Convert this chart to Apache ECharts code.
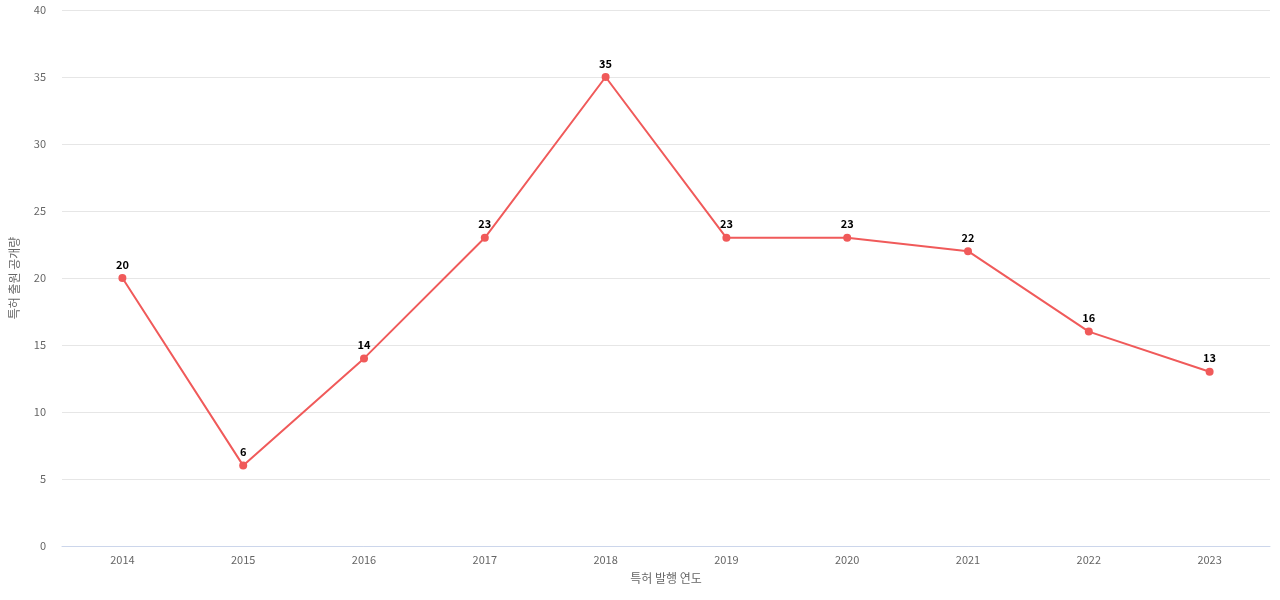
<!DOCTYPE html>
<html><head><meta charset="utf-8">
<script src="https://cdn.jsdelivr.net/npm/echarts@6/dist/echarts.min.js"></script>
<style>html,body{margin:0;padding:0;background:#fff}#c{width:1280px;height:600px}</style>
</head><body><div id="c"></div>
<script>
var years = ['2014','2015','2016','2017','2018','2019','2020','2021','2022','2023'];
var counts = [20, 6, 14, 23, 35, 23, 23, 22, 16, 13];

var myChart = echarts.init(document.getElementById('c'));
var font = '"Noto Sans CJK KR", "Noto Sans", sans-serif';
myChart.setOption({
    animation: false,
    textStyle: {fontFamily: font},
    grid: {left: 61, right: 10, top: 10, bottom: 54},
    xAxis: {
        type: 'category',
        data: years,
        name: '특허 발행 연도',
        nameLocation: 'middle',
        nameGap: 26,
        nameTextStyle: {color: '#666', fontSize: 12},
        axisLine: {lineStyle: {color: '#ccd6eb'}},
        axisTick: {show: false},
        axisLabel: {color: '#666', fontSize: 11}
    },
    yAxis: {
        type: 'value',
        min: 0, max: 40, interval: 5,
        name: '특허 출원 공개량',
        nameLocation: 'middle',
        nameGap: 42,
        nameTextStyle: {color: '#666', fontSize: 12},
        axisLabel: {color: '#666', fontSize: 11, margin: 16},
        splitLine: {lineStyle: {color: '#e6e6e6'}}
    },
    series: [{
        type: 'line',
        data: counts,
        color: '#f05a5a',
        symbol: 'circle',
        symbolSize: 8,
        lineStyle: {width: 2},
        label: {show: true, position: 'top', color: '#000', fontWeight: 'bold', fontSize: 11, distance: 4}
    }]
});
</script></body></html>
